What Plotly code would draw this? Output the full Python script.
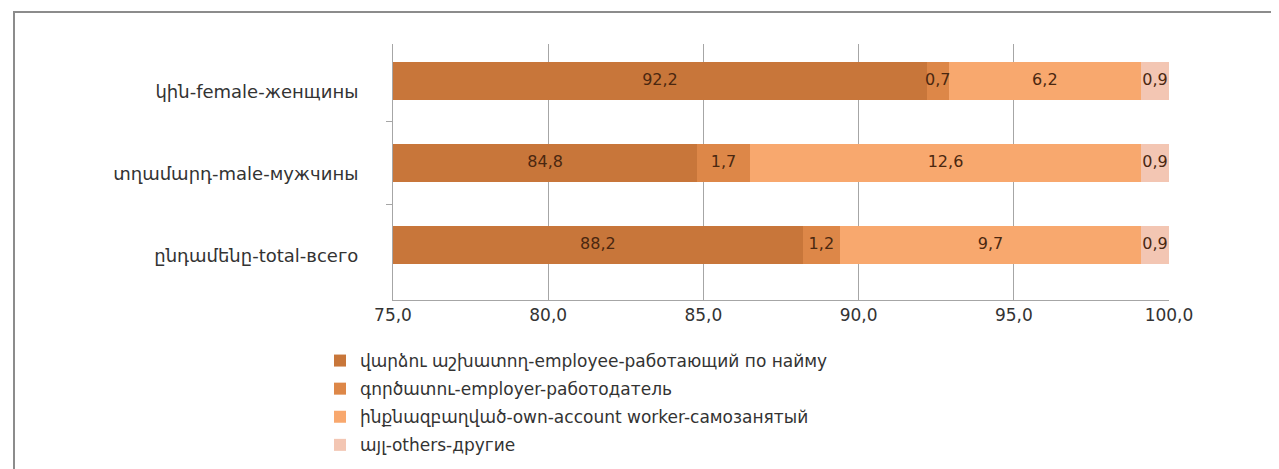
import plotly.graph_objects as go

# categories, top to bottom
groups = ['կին-female-женщины', 'տղամարդ-male-мужчины', 'ընդամենը-total-всего']

series_names = [
    'վարձու աշխատող-employee-работающий по найму',
    'գործատու-employer-работодатель',
    'ինքնազբաղված-own-account worker-самозанятый',
    'այլ-others-другие',
]
employee = [92.2, 84.8, 88.2]
employer = [0.7, 1.7, 1.2]
own_account = [6.2, 12.6, 9.7]
others = [0.9, 0.9, 0.9]

x_ticks = [75, 80, 85, 90, 95, 100]
x_min, x_max = 75, 100

colors = ['#C8763A', '#DD8748', '#F8A86E', '#F3C6B3']
font_family = 'DejaVu Sans, sans-serif'

W, H = 1279, 469
ml, mr, mt, mb = 385, 118, 36, 177
pw, ph = W - ml - mr, H - mt - mb

all_series = [employee, employer, own_account, others]

fig = go.Figure()
for i, vals in enumerate(all_series):
    fig.add_trace(go.Bar(
        y=groups, x=vals, name=series_names[i], orientation='h',
        marker_color=colors[i], marker_line_width=0, width=0.46,
        hovertemplate='%{y}<br>%{x:.1f}<extra>' + series_names[i] + '</extra>',
        legendgroup=str(i),
    ))

# value labels centred on the visible part of each segment
lab_x, lab_y, lab_t = [], [], []
for g, gname in enumerate(groups):
    start = 0.0
    for vals in all_series:
        end = start + vals[g]
        lab_x.append((max(start, x_min) + end) / 2)
        lab_y.append(gname)
        lab_t.append(f'{vals[g]:.1f}'.replace('.', ','))
        start = end

fig.add_trace(go.Scatter(
    x=lab_x, y=lab_y, text=lab_t, mode='text', textposition='middle center',
    textfont=dict(size=16, color='#4A2710', family=font_family),
    showlegend=False, hoverinfo='skip', cliponaxis=False,
))

fig.update_layout(
    barmode='stack',
    width=W, height=H,
    margin=dict(l=ml, r=mr, t=mt, b=mb),
    separators=', ',
    paper_bgcolor='white', plot_bgcolor='white',
    font=dict(family=font_family, size=15, color='#333333'),
    legend=dict(
        x=(312 - ml) / pw, y=(H - mb - 335) / ph, xanchor='left', yanchor='top',
        traceorder='grouped', tracegroupgap=3, bgcolor='rgba(0,0,0,0)',
        font=dict(size=17, color='#333333'),
        itemwidth=30,
    ),
    showlegend=True,
    shapes=[dict(
        type='rect', xref='paper', yref='paper',
        x0=(6 - ml) / pw, x1=(1274 - ml) / pw,
        y0=(H - mb - 490) / ph, y1=(H - mb - 4) / ph,
        line=dict(color='#8C8C8C', width=2), layer='below',
    )],
)

fig.update_xaxes(
    range=[x_min, x_max], tickvals=x_ticks, tickformat='.1f',
    showgrid=True, gridcolor='#A6A6A6', gridwidth=1,
    showline=True, linecolor='#A6A6A6', zeroline=False,
    tickfont=dict(size=17, color='#333333'),
    fixedrange=True,
)
fig.update_yaxes(
    categoryorder='array', categoryarray=groups, range=[2.67, -0.45],
    showline=True, linecolor='#A6A6A6', ticks='outside', tickson='boundaries',
    ticklen=6, tickcolor='#A6A6A6', ticklabelstandoff=30, ticklabelshift=-11,
    tickfont=dict(size=18, color='#333333'),
    fixedrange=True,
)

fig.write_html('out.html')
